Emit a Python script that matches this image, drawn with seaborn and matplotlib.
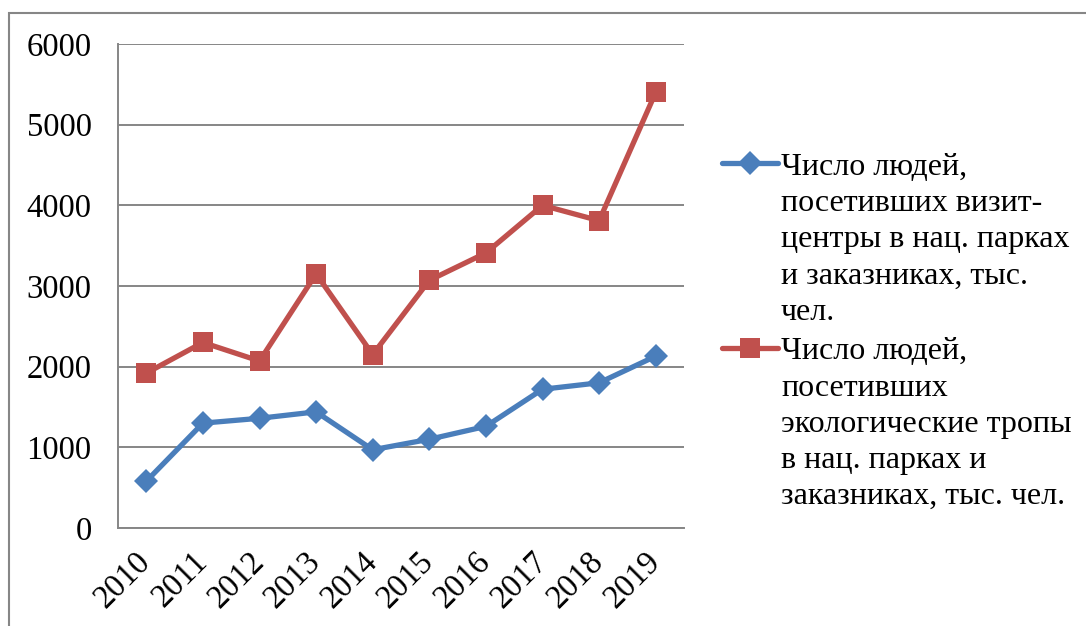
import pandas as pd
import seaborn as sns
import matplotlib.pyplot as plt
from matplotlib.patches import Rectangle
from matplotlib.legend_handler import HandlerLine2D

# Data
years = [2010, 2011, 2012, 2013, 2014, 2015, 2016, 2017, 2018, 2019]
visit_centers = [580, 1300, 1360, 1440, 970, 1100, 1260, 1720, 1800, 2130]
eco_trails = [1920, 2300, 2070, 3150, 2150, 3070, 3410, 4000, 3810, 5400]

label_visit = "Число людей,\nпосетивших визит-\nцентры в нац. парках\nи заказниках, тыс.\nчел."
label_eco = "Число людей,\nпосетивших\nэкологические тропы\nв нац. парках и\nзаказниках, тыс. чел."

df_visit = pd.DataFrame({'year': years, 'value': visit_centers})
df_eco = pd.DataFrame({'year': years, 'value': eco_trails})

sns.set_style('white')
plt.rcParams['font.family'] = ['Liberation Serif', 'DejaVu Serif']
plt.rcParams['text.color'] = 'black'

fig = plt.figure(figsize=(10.86, 6.26), dpi=100)
ax = fig.add_axes([118 / 1086, 1 - 528 / 626, (684 - 118) / 1086, (528 - 44) / 626])

grid_col = '#868686'
tick_fs = 23.5
leg_fs = 23
line_sp = 1.33

sns.lineplot(data=df_visit, x='year', y='value', color='#4A7EBB', marker='D',
             markersize=12, markeredgewidth=0, linewidth=3.8, label=label_visit, ax=ax)
sns.lineplot(data=df_eco, x='year', y='value', color='#C0504D', marker='s',
             markersize=14, markeredgewidth=0, linewidth=3.8, label=label_eco, ax=ax)

ax.set_xlim(years[0] - 0.5, years[-1] + 0.5)
ax.set_ylim(0, 6000)
ax.set_yticks(range(0, 6001, 1000))
ax.yaxis.grid(True, color=grid_col, linewidth=1.4)
ax.set_axisbelow(True)
ax.set_xlabel('')
ax.set_ylabel('')

# category boundaries get tick marks, labels sit at centres
ax.set_xticks([y - 0.5 for y in years] + [years[-1] + 0.5], minor=True)
ax.set_xticks(years)
ax.set_xticklabels([str(y) for y in years], rotation=45, ha='right', va='center',
                   rotation_mode='anchor', fontsize=tick_fs)
ax.tick_params(axis='x', which='major', length=0, pad=21, labelcolor='black')
ax.tick_params(axis='x', which='minor', length=7, width=1.4, color=grid_col, direction='out')
ax.tick_params(axis='y', length=7, width=1.4, color=grid_col, direction='out',
               labelsize=tick_fs, pad=12, labelcolor='black')

for s in ['top', 'right']:
    ax.spines[s].set_visible(False)
for s in ['left', 'bottom']:
    ax.spines[s].set_color(grid_col)
    ax.spines[s].set_linewidth(1.4)


class FirstLineHandler(HandlerLine2D):
    # lift the legend line to the first row of a 5-line label
    def create_artists(self, legend, orig_handle, xdescent, ydescent, width,
                       height, fontsize, trans):
        arts = super().create_artists(legend, orig_handle, xdescent, ydescent,
                                      width, height, fontsize, trans)
        step = fontsize * (0.75 * line_sp + 0.2)
        for a in arts:
            a.set_ydata([v + 2 * step for v in a.get_ydata()])
        return arts


handles, labels = ax.get_legend_handles_labels()
leg = ax.legend(handles, labels, loc='center left', bbox_to_anchor=(1.067, 0.405),
                frameon=False, fontsize=leg_fs, handlelength=1.75, handletextpad=0.1,
                labelspacing=0.33, borderaxespad=0, borderpad=0,
                handler_map={h: FirstLineHandler(numpoints=1) for h in handles})
for t in leg.get_texts():
    t.set_linespacing(line_sp)
    t.set_color('black')

fig.patches.append(Rectangle((9 / 1086, -0.1), 1.2, 1.1 - 13 / 626,
                             transform=fig.transFigure, fill=False,
                             edgecolor=grid_col, linewidth=1.5))

fig.savefig('out.png', dpi=100)
